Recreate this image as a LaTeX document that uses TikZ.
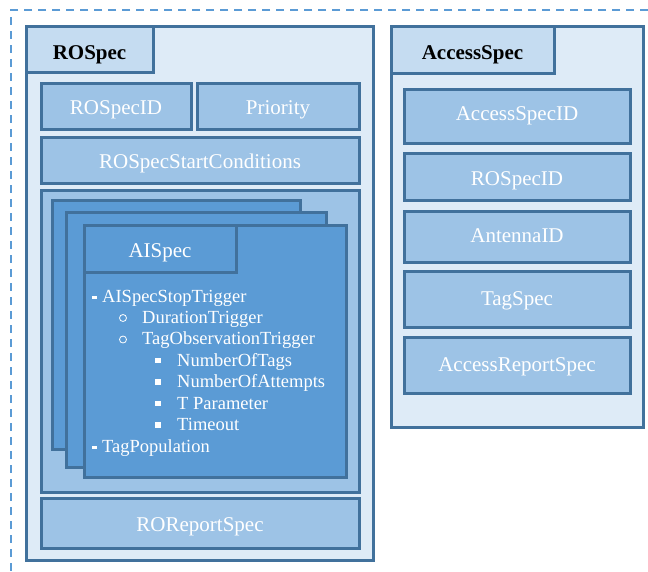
\documentclass[tikz,border=0pt]{standalone}
\usepackage{fontspec}
\setmainfont{Liberation Serif}
\definecolor{bordc}{HTML}{41719C}
\definecolor{outerc}{HTML}{DEEBF7}
\definecolor{tabc}{HTML}{C5DCF1}
\definecolor{subc}{HTML}{9DC3E6}
\definecolor{cardc}{HTML}{5B9BD5}
\definecolor{dashc}{HTML}{5B9BD5}
\begin{document}
\begin{tikzpicture}[x=1pt,y=-1pt,
  base/.style={draw=bordc, line width=3pt, inner sep=0pt, rectangle, text height=17pt, text depth=0pt},
  outerbox/.style={base, fill=outerc},
  tabbox/.style={base, fill=tabc, text=black, font=\fontsize{21}{25}\selectfont\bfseries, text height=20pt},
  subbox/.style={base, fill=subc, text=white, font=\fontsize{21}{25}\selectfont},
  accbox/.style={subbox, text height=12pt},
  cardbox/.style={base, fill=cardc, text=white, font=\fontsize{21}{25}\selectfont},
  item/.style={text=white, font=\fontsize{18.5}{22}\selectfont, anchor=base west, inner sep=0pt},
]
\useasboundingbox (0,0) rectangle (648,571);
% dashed frame
\coordinate (fr1) at (648,10);
\coordinate (fr2) at (11,571);
\draw[dashc, line width=2pt, dash pattern=on 8pt off 6pt] (fr1) -| (fr2);

% ROSpec
\node[outerbox, minimum width=347pt, minimum height=534pt] (ro) at (199.5,293) {};
\node[tabbox, minimum width=127pt, minimum height=46pt] (rotab) at (89.5,49) {ROSpec};
\node[subbox, minimum width=150pt, minimum height=46pt] (rid) at (116,106) {ROSpecID};
\node[subbox, minimum width=162pt, minimum height=46pt] (prio) at (278,106) {Priority};
\node[subbox, minimum width=318pt, minimum height=46pt] (rssc) at (200,160) {ROSpecStartConditions};
\node[subbox, minimum width=318pt, minimum height=302pt] (aic) at (200,341) {};
\node[cardbox, minimum width=248pt, minimum height=249pt] (card1) at (176,324.5) {};
\node[cardbox, minimum width=260pt, minimum height=255pt] (card2) at (196,339.5) {};
\node[cardbox, minimum width=262pt, minimum height=252pt] (card3) at (215,351) {};
\node[cardbox, minimum width=152pt, minimum height=47pt] (aitab) at (160,248.5) {AISpec};
\node[subbox, minimum width=318pt, minimum height=50pt] (rrs) at (200,523) {ROReportSpec};

% AISpec list
\node[item] (l1) at (102,302) {AISpecStopTrigger};
\node[item] (l2) at (142,323.4) {DurationTrigger};
\node[item] (l3) at (142,344.9) {TagObservationTrigger};
\node[item] (l4) at (177,366.3) {NumberOfTags};
\node[item] (l5) at (177,387.7) {NumberOfAttempts};
\node[item] (l6) at (177,409.1) {T Parameter};
\node[item] (l7) at (177,430.6) {Timeout};
\node[item] (l8) at (102,452) {TagPopulation};
% bullets
\fill[white] (92,295.5) rectangle (97,298.5);
\fill[white] (92,445.5) rectangle (97,448.5);
\draw[white, line width=0.8pt] (123,318) circle (3.5pt);
\draw[white, line width=0.8pt] (123,339.5) circle (3.5pt);
\foreach \yy in {366.3,387.7,409.1,430.6}
  \fill[white] (155,\yy-8.5) rectangle (160.5,\yy-3);

% AccessSpec
\node[outerbox, minimum width=252pt, minimum height=401pt] (ac) at (517,226.5) {};
\node[tabbox, minimum width=163pt, minimum height=47pt] (actab) at (472.5,49.5) {AccessSpec};
\node[accbox, minimum width=226pt, minimum height=54pt, text height=9pt] (asid) at (517,116) {AccessSpecID};
\node[accbox, minimum width=226pt, minimum height=47pt, text height=17pt] (arid) at (517,176.5) {ROSpecID};
\node[accbox, minimum width=226pt, minimum height=51pt] (ant) at (517,236.5) {AntennaID};
\node[accbox, minimum width=226pt, minimum height=56pt] (tag) at (517,299) {TagSpec};
\node[accbox, minimum width=226pt, minimum height=56pt] (arep) at (517,365) {AccessReportSpec};
\end{tikzpicture}
\end{document}
